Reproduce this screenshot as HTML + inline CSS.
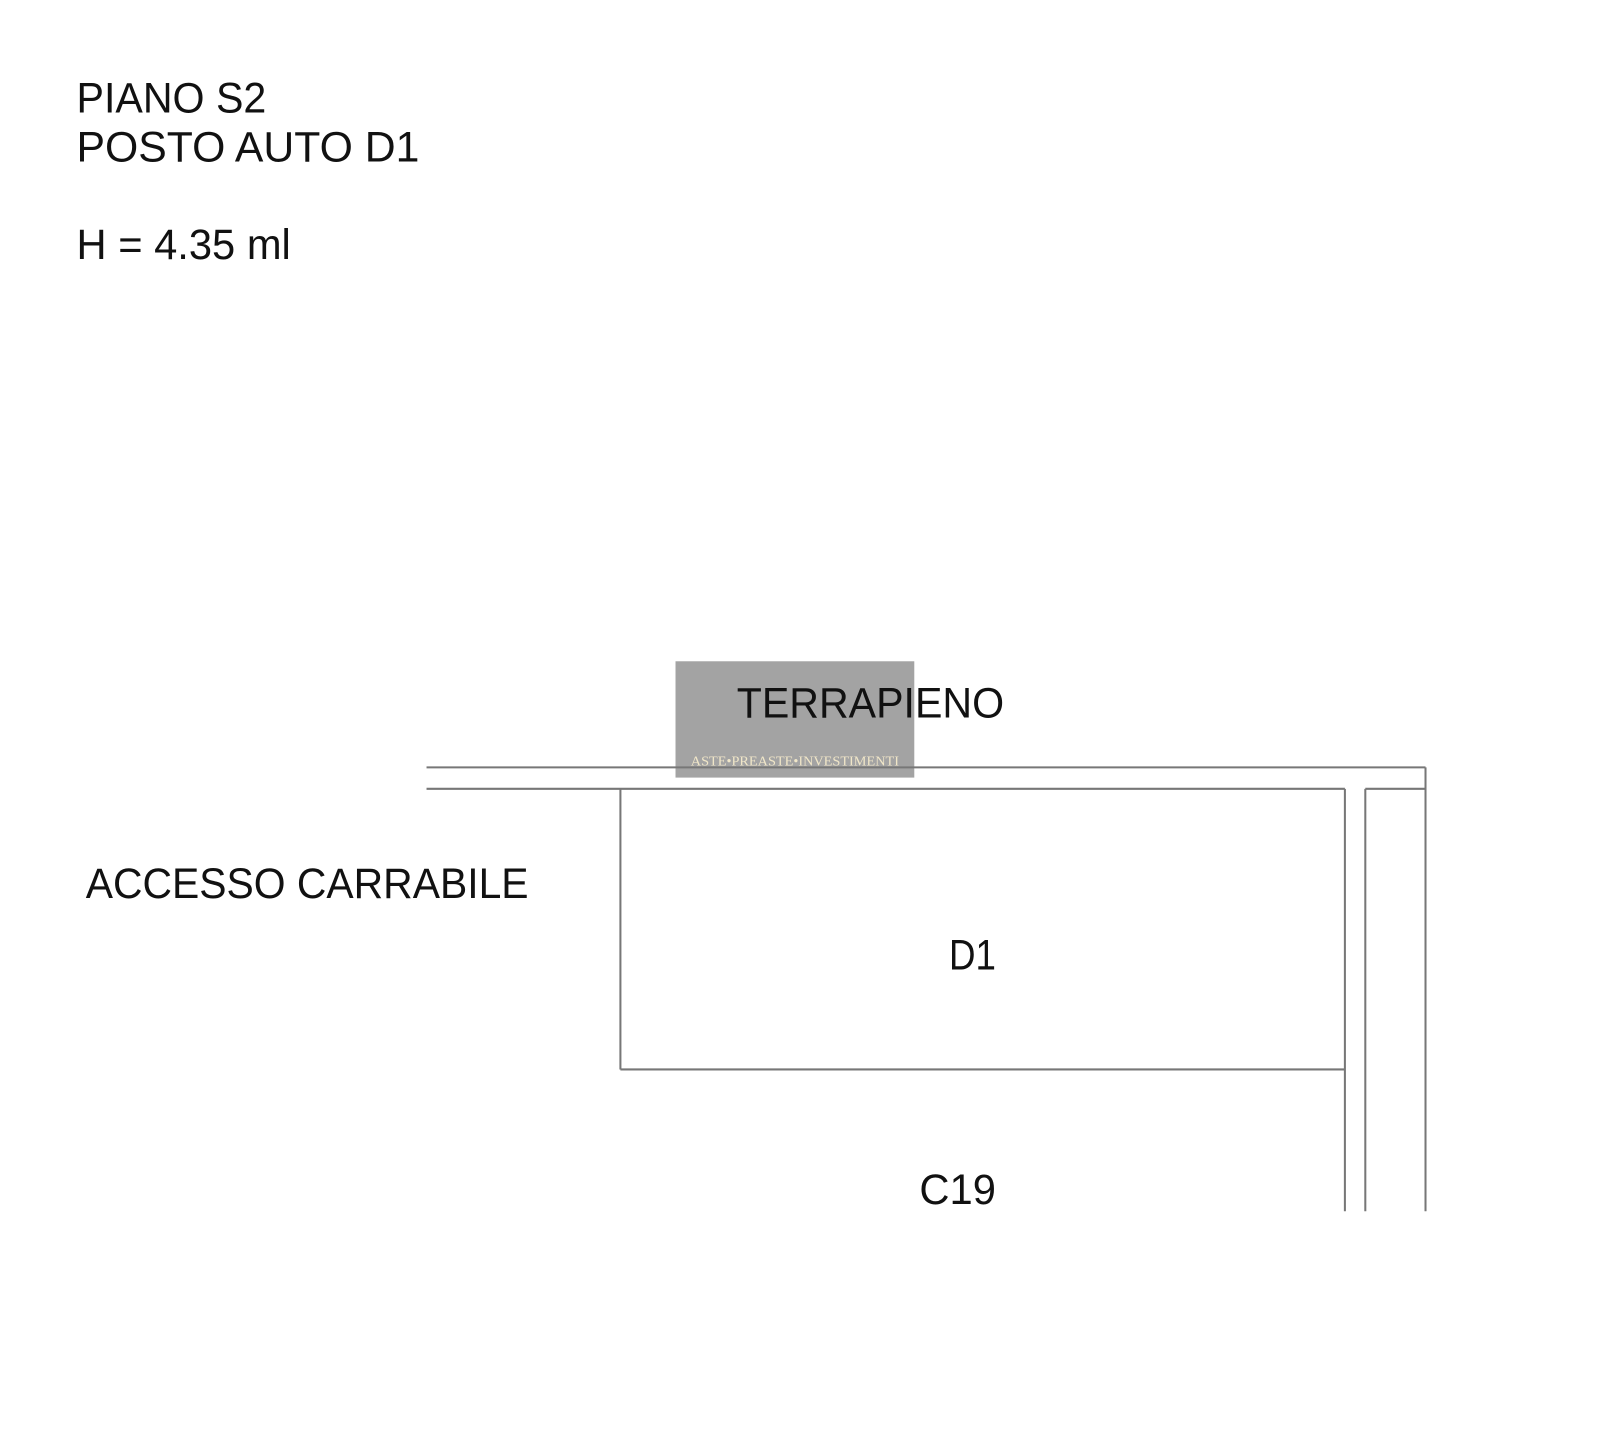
<!DOCTYPE html>
<html><head><meta charset="utf-8"><style>html,body{margin:0;padding:0;background:#fff}svg{display:block}</style></head>
<body>
<svg width="1600" height="1445" viewBox="0 0 1568 1416" xmlns="http://www.w3.org/2000/svg" font-family="Liberation Sans, Arial, sans-serif" fill="#111">
<rect width="1568" height="1416" fill="#fff"/>
<text x="75" y="110" font-size="42" textLength="186" lengthAdjust="spacingAndGlyphs">PIANO S2</text>
<text x="75" y="158" font-size="42" textLength="336" lengthAdjust="spacingAndGlyphs">POSTO AUTO  D1</text>
<text x="75" y="254" font-size="42" textLength="210" lengthAdjust="spacingAndGlyphs">H = 4.35 ml</text>
<rect x="662" y="648" width="234" height="114" fill="#a3a3a3"/>
<text x="722" y="703" font-size="42" textLength="262" lengthAdjust="spacingAndGlyphs">TERRAPIENO</text>
<text x="779" y="750" font-size="13" fill="#f0e6c8" text-anchor="middle" font-family="Liberation Serif, serif" textLength="204" lengthAdjust="spacingAndGlyphs">ASTE•PREASTE•INVESTIMENTI</text>
<g stroke="#777" stroke-width="2" fill="none">
<line x1="418" y1="752" x2="1397" y2="752"/>
<line x1="418" y1="773" x2="1318" y2="773"/>
<line x1="1338" y1="773" x2="1397" y2="773"/>
<line x1="1397" y1="752" x2="1397" y2="1187"/>
<line x1="1338" y1="773" x2="1338" y2="1187"/>
<line x1="1318" y1="773" x2="1318" y2="1187"/>
<line x1="608" y1="773" x2="608" y2="1048"/>
<line x1="608" y1="1048" x2="1318" y2="1048"/>
</g>
<text x="84" y="880" font-size="42" textLength="434" lengthAdjust="spacingAndGlyphs">ACCESSO CARRABILE</text>
<text x="930" y="950" font-size="42" textLength="46" lengthAdjust="spacingAndGlyphs">D1</text>
<text x="901" y="1180" font-size="42" textLength="75" lengthAdjust="spacingAndGlyphs">C19</text>
</svg>
</body></html>
